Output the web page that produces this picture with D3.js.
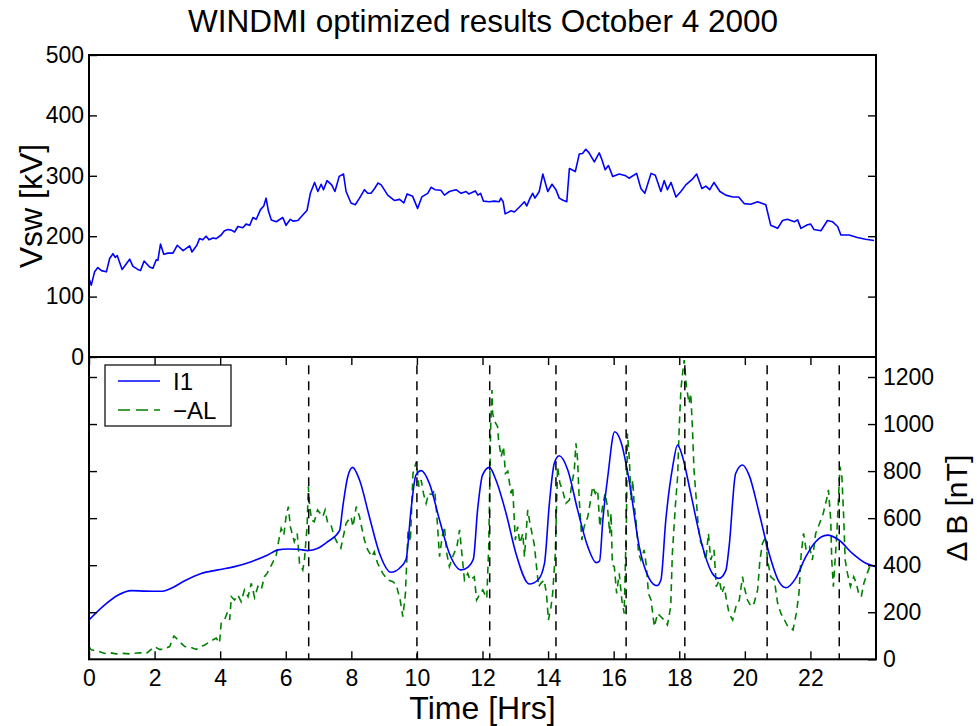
<!DOCTYPE html>
<html>
<head>
<meta charset="utf-8">
<script src="https://cdn.jsdelivr.net/npm/d3@7"></script>
<style>
  body { margin: 0; background: #fff; }
  svg { display: block; font-family: "Liberation Sans", Arial, Helvetica, sans-serif; }
</style>
</head>
<body>
<svg id="chart" width="977" height="726"></svg>
<script>
// ---- Solar wind driving voltage, Vsw [kV] ----
const vswHours = [0, 0.07, 0.17, 0.27, 0.38, 0.53, 0.63, 0.73, 0.80, 0.86, 1.01, 1.24, 1.34, 1.49, 1.57, 1.68, 1.85, 1.95, 2.05, 2.10,
  2.18, 2.28, 2.41, 2.56, 2.69, 2.87, 3.07, 3.14, 3.29, 3.37, 3.47, 3.57, 3.66, 3.78, 3.88, 4.03, 4.13, 4.24, 4.34, 4.44,
  4.54, 4.69, 4.79, 4.90, 5.00, 5.10, 5.23, 5.33, 5.40, 5.47, 5.56, 5.71, 5.91, 6.01, 6.14, 6.22, 6.37, 6.52, 6.65, 6.75,
  6.88, 6.98, 7.08, 7.15, 7.26, 7.40, 7.50, 7.63, 7.76, 7.84, 7.99, 8.12, 8.25, 8.40, 8.50, 8.60, 8.71, 8.81, 8.91, 9.11,
  9.32, 9.47, 9.60, 9.70, 9.87, 10.02, 10.15, 10.33, 10.43, 10.55, 10.73, 10.84, 10.99, 11.19, 11.35, 11.50, 11.58, 11.78, 11.86, 11.94,
  12.03, 12.21, 12.36, 12.51, 12.56, 12.63, 12.69, 12.87, 12.97, 13.12, 13.28, 13.35, 13.45, 13.53, 13.60, 13.73, 13.84, 13.99, 14.12, 14.24,
  14.34, 14.44, 14.57, 14.65, 14.83, 14.95, 15.05, 15.15, 15.25, 15.41, 15.56, 15.64, 15.74, 15.84, 15.97, 16.17, 16.37, 16.47, 16.70, 16.83,
  16.95, 17.14, 17.27, 17.44, 17.54, 17.64, 17.75, 17.90, 18.05, 18.20, 18.41, 18.53, 18.69, 18.81, 18.93, 19.06, 19.24, 19.42, 19.63, 19.81,
  19.98, 20.18, 20.39, 20.64, 20.79, 21.00, 21.15, 21.30, 21.51, 21.61, 21.71, 21.91, 22.01, 22.11, 22.32, 22.52, 22.67, 22.83, 22.93, 23.18,
  23.43, 23.68, 23.94];
const vswValues = [130, 119, 141, 148, 143, 141, 163, 171, 165, 168, 145, 162, 150, 145, 143, 159, 149, 147, 161, 160,
  187, 170, 172, 172, 185, 176, 184, 174, 185, 196, 194, 200, 194, 197, 196, 202, 209, 211, 210, 207,
  216, 214, 220, 218, 231, 228, 244, 250, 263, 242, 227, 224, 231, 218, 228, 225, 226, 235, 243, 271,
  289, 274, 286, 277, 292, 285, 274, 299, 303, 274, 255, 252, 263, 277, 271, 271, 279, 288, 285, 268,
  259, 261, 255, 270, 266, 246, 265, 271, 281, 277, 276, 268, 274, 277, 271, 274, 270, 275, 268, 271,
  258, 257, 258, 257, 263, 257, 237, 242, 240, 248, 257, 250, 263, 271, 263, 274, 303, 274, 286, 277,
  263, 260, 257, 312, 307, 336, 337, 344, 338, 323, 338, 327, 310, 317, 299, 303, 300, 296, 304, 279,
  271, 304, 301, 274, 292, 277, 289, 265, 274, 285, 295, 303, 279, 283, 277, 289, 274, 268, 265, 265,
  254, 253, 257, 252, 218, 213, 226, 228, 224, 227, 213, 219, 220, 211, 209, 226, 224, 216, 202, 202,
  198, 195, 193];

// ---- Model current I1 (expressed in nT) ----
const i1Hours = [0, 0.48, 0.89, 1.29, 1.70, 2.21, 2.51, 2.92, 3.42, 3.93, 4.44, 4.95, 5.45, 5.76, 6.06, 6.37, 6.67, 6.98, 7.28, 7.64,
  7.74, 7.89, 8.04, 8.25, 8.55, 8.86, 9.21, 9.47, 9.67, 9.82, 9.97, 10.13, 10.38, 10.69, 10.99, 11.35, 11.55, 11.72, 11.85, 12.00,
  12.21, 12.41, 12.72, 13.02, 13.43, 13.69, 13.89, 14.04, 14.19, 14.34, 14.60, 14.90, 15.21, 15.47, 15.57, 15.67, 15.82, 16.03, 16.22, 16.47,
  16.78, 17.08, 17.32, 17.44, 17.59, 17.80, 17.95, 18.10, 18.35, 18.71, 19.01, 19.21, 19.42, 19.52, 19.72, 19.93, 20.13, 20.44, 20.74, 21.04,
  21.25, 21.55, 21.86, 22.16, 22.52, 22.87, 23.28, 23.69, 23.99];
const i1Values = [167, 231, 273, 292, 290, 289, 302, 334, 365, 380, 394, 415, 443, 465, 469, 468, 462, 472, 500, 547,
  649, 776, 816, 762, 606, 450, 370, 387, 425, 635, 783, 802, 748, 592, 450, 380, 391, 425, 635, 783,
  816, 762, 620, 450, 320, 337, 408, 663, 833, 865, 805, 635, 479, 411, 418, 592, 776, 967, 925, 762,
  479, 344, 313, 337, 592, 819, 911, 861, 705, 479, 365, 344, 377, 479, 790, 826, 783, 620, 450, 330,
  304, 344, 436, 500, 528, 507, 450, 408, 394];

// ---- Observed -AL index [nT] ----
const alHours = [0, 0.07, 0.28, 0.48, 0.63, 0.83, 1.04, 1.24, 1.55, 1.75, 2.00, 2.15, 2.25, 2.46, 2.59, 2.66, 2.76, 2.92, 3.10, 3.27,
  3.42, 3.52, 3.73, 3.88, 3.98, 4.03, 4.13, 4.21, 4.29, 4.34, 4.44, 4.54, 4.64, 4.74, 4.85, 4.95, 5.05, 5.15, 5.25, 5.35,
  5.43, 5.54, 5.64, 5.71, 5.78, 5.86, 5.94, 6.01, 6.08, 6.14, 6.26, 6.35, 6.42, 6.52, 6.57, 6.65, 6.69, 6.73, 6.79, 6.87,
  6.97, 7.13, 7.20, 7.28, 7.38, 7.48, 7.58, 7.68, 7.84, 7.99, 8.05, 8.15, 8.25, 8.30, 8.40, 8.50, 8.63, 8.70, 8.80, 8.96,
  9.11, 9.27, 9.37, 9.49, 9.57, 9.65, 9.73, 9.80, 9.88, 9.98, 10.06, 10.13, 10.20, 10.28, 10.36, 10.47, 10.54, 10.61, 10.69, 10.77,
  10.84, 10.91, 10.99, 11.09, 11.22, 11.30, 11.35, 11.45, 11.55, 11.62, 11.75, 11.82, 11.93, 12.01, 12.13, 12.19, 12.25, 12.29, 12.31, 12.37,
  12.46, 12.49, 12.57, 12.64, 12.70, 12.77, 12.87, 12.92, 13.00, 13.07, 13.14, 13.23, 13.28, 13.38, 13.43, 13.51, 13.58, 13.71, 13.78, 13.88,
  13.95, 14.01, 14.09, 14.14, 14.22, 14.29, 14.36, 14.44, 14.54, 14.65, 14.73, 14.80, 14.85, 14.90, 14.95, 15.03, 15.10, 15.21, 15.28, 15.36,
  15.44, 15.51, 15.58, 15.66, 15.74, 15.81, 15.88, 15.92, 15.96, 16.02, 16.09, 16.17, 16.25, 16.32, 16.39, 16.42, 16.48, 16.53, 16.58, 16.63,
  16.68, 16.76, 16.83, 16.93, 17.00, 17.06, 17.14, 17.24, 17.34, 17.44, 17.54, 17.64, 17.74, 17.79, 17.88, 17.95, 18.00, 18.05, 18.10, 18.15,
  18.22, 18.30, 18.35, 18.40, 18.45, 18.52, 18.58, 18.65, 18.72, 18.81, 18.89, 18.96, 19.06, 19.13, 19.22, 19.30, 19.37, 19.44, 19.52, 19.63,
  19.73, 19.83, 19.93, 19.98, 20.08, 20.19, 20.28, 20.39, 20.46, 20.54, 20.64, 20.69, 20.79, 20.90, 21.00, 21.10, 21.21, 21.31, 21.47, 21.57,
  21.65, 21.72, 21.79, 21.87, 21.97, 22.06, 22.16, 22.28, 22.39, 22.49, 22.55, 22.62, 22.65, 22.70, 22.80, 22.85, 22.90, 22.96, 23.01, 23.06,
  23.13, 23.22, 23.32, 23.40, 23.47, 23.55, 23.63, 23.73, 23.83, 23.99];
const alValues = [54, 40, 34, 25, 28, 23, 25, 23, 28, 25, 54, 42, 42, 54, 99, 90, 75, 54, 51, 42,
  56, 60, 79, 90, 69, 153, 167, 195, 167, 266, 252, 273, 245, 295, 266, 323, 263, 309, 295, 351,
  365, 394, 422, 443, 500, 557, 528, 606, 649, 564, 500, 535, 408, 380, 422, 564, 734, 649, 592, 585,
  635, 606, 635, 578, 571, 521, 493, 472, 578, 606, 564, 649, 606, 571, 507, 465, 436, 457, 408, 365,
  337, 330, 316, 252, 181, 280, 550, 500, 790, 840, 734, 762, 705, 663, 705, 700, 720, 606, 436, 521,
  564, 450, 394, 436, 479, 550, 479, 337, 365, 337, 351, 252, 280, 295, 259, 479, 989, 1145, 1045, 1012,
  989, 932, 861, 904, 790, 800, 705, 733, 507, 564, 493, 535, 436, 635, 592, 535, 486, 309, 323, 337,
  280, 167, 224, 280, 450, 819, 748, 720, 663, 677, 748, 805, 918, 847, 677, 507, 564, 606, 663, 734,
  705, 720, 564, 649, 705, 649, 535, 620, 400, 394, 280, 365, 252, 195, 592, 960, 847, 677, 762, 649,
  592, 450, 422, 465, 394, 280, 252, 139, 195, 181, 167, 146, 224, 450, 649, 776, 989, 1145, 1215, 1272,
  1158, 1088, 1130, 989, 805, 677, 564, 500, 479, 422, 535, 422, 465, 309, 337, 280, 309, 252, 195, 167,
  224, 252, 351, 309, 252, 224, 238, 295, 422, 493, 521, 422, 351, 337, 238, 195, 167, 139, 125, 195,
  280, 450, 535, 465, 479, 422, 535, 578, 620, 677, 720, 592, 422, 309, 521, 663, 819, 776, 620, 422,
  365, 309, 351, 323, 280, 266, 323, 365, 401, 394];

// ---- Substorm onset markers [Hrs] ----
const onsetHours = [6.70, 10.00, 12.22, 14.24, 16.38, 18.17, 20.68, 22.88];

// ---- Axis ticks and labels ----
const timeTicks = [0, 2, 4, 6, 8, 10, 12, 14, 16, 18, 20, 22];
const vswTicks = [0, 100, 200, 300, 400, 500];
const dbTicks = [0, 200, 400, 600, 800, 1000, 1200];
const titleText = "WINDMI optimized results October 4 2000";
const vswLabel = "Vsw [kV]";
const timeLabel = "Time [Hrs]";
const dbLabel = "\u0394 B [nT]";
const legendNames = ["I1", "\u2212AL"];

// ---- Layout ----
const left = 89, right = 876, top1 = 55, mid = 357, bottom2 = 659.3;
const tickLen = 8;
const fontFam = '"Liberation Sans", Arial, Helvetica, sans-serif';
const plain = d3.format("d");

const svg = d3.select("#chart");
svg.append("rect").attr("width", 977).attr("height", 726).attr("fill", "#fff");

const x = d3.scaleLinear().domain([0, 24]).range([left, right]);
const yV = d3.scaleLinear().domain([0, 500]).range([mid, top1]);
const yB = d3.scaleLinear().domain([0, 1285]).range([bottom2, mid]);

const defs = svg.append("defs");
defs.append("clipPath").attr("id", "clipTop")
  .append("rect").attr("x", left).attr("y", top1).attr("width", right - left).attr("height", mid - top1);
defs.append("clipPath").attr("id", "clipBot")
  .append("rect").attr("x", left).attr("y", mid).attr("width", right - left).attr("height", bottom2 - mid);

function styleAxis(g, size) {
  g.attr("font-family", fontFam).attr("font-size", size);
  g.select(".domain").remove();
  g.selectAll(".tick line").attr("stroke", "#000").attr("stroke-width", 1.4);
  g.selectAll(".tick text").attr("fill", "#000");
}

// ---- Top panel: Vsw ----
const topPlot = svg.append("g").attr("clip-path", "url(#clipTop)");
topPlot.append("path")
  .datum(d3.zip(vswHours, vswValues))
  .attr("fill", "none").attr("stroke", "#0000ff").attr("stroke-width", 1.6)
  .attr("stroke-linejoin", "round")
  .attr("d", d3.line().x(d => x(d[0])).y(d => yV(d[1])));

svg.append("g").attr("transform", `translate(${left},0)`)
  .call(d3.axisLeft(yV).tickValues(vswTicks).tickSizeInner(-tickLen).tickSizeOuter(0).tickPadding(5).tickFormat(plain))
  .call(g => styleAxis(g, 23));
svg.append("g").attr("transform", `translate(${right},0)`)
  .call(d3.axisRight(yV).tickValues(vswTicks.slice(1, -1)).tickSizeInner(-tickLen).tickSizeOuter(0).tickFormat(""))
  .call(g => styleAxis(g, 23));

// ---- Bottom panel: I1 and -AL ----
const botPlot = svg.append("g").attr("clip-path", "url(#clipBot)");
botPlot.append("path")
  .datum(d3.zip(alHours, alValues))
  .attr("fill", "none").attr("stroke", "#008000").attr("stroke-width", 1.6)
  .attr("stroke-dasharray", "7,5")
  .attr("d", d3.line().x(d => x(d[0])).y(d => yB(d[1])));
botPlot.append("path")
  .datum(d3.zip(i1Hours, i1Values))
  .attr("fill", "none").attr("stroke", "#0000ff").attr("stroke-width", 1.6)
  .attr("d", d3.line().curve(d3.curveMonotoneX).x(d => x(d[0])).y(d => yB(d[1])));
botPlot.selectAll("line.onset")
  .data(onsetHours).join("line").attr("class", "onset")
  .attr("x1", d => x(d)).attr("x2", d => x(d))
  .attr("y1", yB(1250)).attr("y2", yB(0))
  .attr("stroke", "#000").attr("stroke-width", 1.5).attr("stroke-dasharray", "9,7");

svg.append("g").attr("transform", `translate(0,${bottom2})`)
  .call(d3.axisBottom(x).tickValues(timeTicks).tickSizeInner(-tickLen).tickSizeOuter(0).tickPadding(10).tickFormat(plain))
  .call(g => styleAxis(g, 23));
svg.append("g").attr("transform", `translate(0,${mid})`)
  .call(d3.axisTop(x).tickValues(timeTicks).tickSizeInner(-tickLen).tickSizeOuter(0).tickFormat(""))
  .call(g => styleAxis(g, 23));
svg.append("g").attr("transform", `translate(${left},0)`)
  .call(d3.axisLeft(yB).tickValues(dbTicks.slice(1)).tickSizeInner(-tickLen).tickSizeOuter(0).tickFormat(""))
  .call(g => styleAxis(g, 23));
svg.append("g").attr("transform", `translate(${right},0)`)
  .call(d3.axisRight(yB).tickValues(dbTicks).tickSizeInner(-tickLen).tickSizeOuter(0).tickPadding(7).tickFormat(plain))
  .call(g => styleAxis(g, 23));

// ---- Panel frames ----
svg.append("rect").attr("x", left).attr("y", top1).attr("width", right - left).attr("height", mid - top1)
  .attr("fill", "none").attr("stroke", "#000").attr("stroke-width", 2);
svg.append("rect").attr("x", left).attr("y", mid).attr("width", right - left).attr("height", bottom2 - mid)
  .attr("fill", "none").attr("stroke", "#000").attr("stroke-width", 2);

// ---- Legend ----
const leg = svg.append("g").attr("font-family", fontFam).attr("font-size", 24);
leg.append("rect").attr("x", 105).attr("y", 365).attr("width", 126).attr("height", 61)
  .attr("fill", "#fff").attr("stroke", "#000").attr("stroke-width", 1.2);
leg.append("line").attr("x1", 118).attr("x2", 160).attr("y1", 381).attr("y2", 381)
  .attr("stroke", "#0000ff").attr("stroke-width", 1.6);
leg.append("line").attr("x1", 118).attr("x2", 160).attr("y1", 410).attr("y2", 410)
  .attr("stroke", "#008000").attr("stroke-width", 1.6).attr("stroke-dasharray", "12,6");
leg.append("text").attr("x", 173).attr("y", 390).text(legendNames[0]);
leg.append("text").attr("x", 173).attr("y", 419).text(legendNames[1]);

// ---- Titles ----
svg.append("text").attr("x", 483).attr("y", 32).attr("text-anchor", "middle")
  .attr("font-family", fontFam).attr("font-size", 31.5).text(titleText);
svg.append("text").attr("transform", `translate(42,${(top1 + mid) / 2}) rotate(-90)`)
  .attr("text-anchor", "middle").attr("font-family", fontFam).attr("font-size", 32).text(vswLabel);
svg.append("text").attr("x", (left + right) / 2).attr("y", 719).attr("text-anchor", "middle")
  .attr("font-family", fontFam).attr("font-size", 32).text(timeLabel);
svg.append("text").attr("transform", `translate(967,${(mid + bottom2) / 2}) rotate(-90)`)
  .attr("text-anchor", "middle").attr("font-family", fontFam).attr("font-size", 30).text(dbLabel);
</script>
</body>
</html>
